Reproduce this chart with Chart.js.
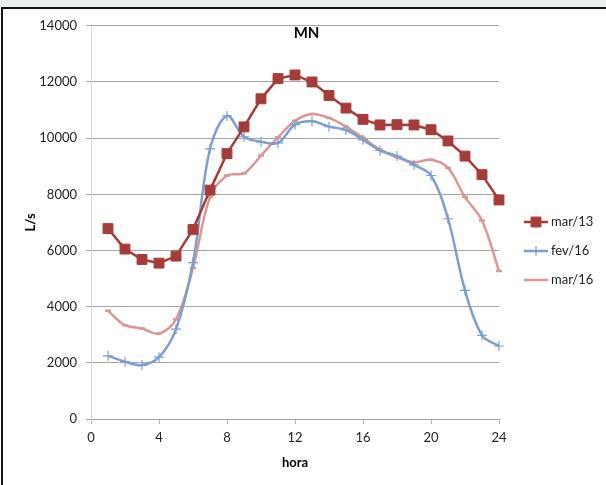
<!DOCTYPE html>
<html>
<head>
<meta charset="utf-8">
<script src="https://cdn.jsdelivr.net/npm/chart.js@4.4.1/dist/chart.umd.min.js"></script>
<style>
  html, body { margin: 0; padding: 0; background: #fff; }
  #strip { position: absolute; left: 0; top: 0; width: 606px; height: 7px; background: #e8f1ee; }
  #frame { position: absolute; left: 1px; top: 7px; width: 603px; height: 476px;
           border-top: 2px solid #151515; border-left: 2px solid #151515; }
  #wrap { width: 603px; height: 476px; }
</style>
</head>
<body>
<div id="strip"></div>
<div id="frame"><div id="wrap"><canvas id="myChart"></canvas></div></div>
<script>
// data
const hours = [1, 2, 3, 4, 5, 6, 7, 8, 9, 10, 11, 12, 13, 14, 15, 16, 17, 18, 19, 20, 21, 22, 23, 24];
const mar13 = [6780, 6050, 5680, 5550, 5800, 6750, 8150, 9450, 10400, 11400, 12120, 12250,
               12000, 11520, 11070, 10670, 10470, 10480, 10470, 10300, 9900, 9360, 8700, 7800];
const fev16 = [2250, 2040, 1920, 2200, 3200, 5570, 9620, 10790, 10050, 9870, 9830, 10480,
               10600, 10410, 10290, 9940, 9560, 9360, 9050, 8670, 7130, 4580, 2980, 2600];
const mar16 = [3850, 3340, 3220, 3040, 3550, 5380, 7900, 8670, 8750, 9380, 10030, 10620,
               10860, 10720, 10410, 10010, 9590, 9320, 9140, 9230, 8940, 7900, 7070, 5270];
const seriesNames = ['mar/13', 'fev/16', 'mar/16'];

const FONT = 'Lato, "Open Sans", sans-serif';

function pts(values) {
  return hours.map((h, i) => ({ x: h, y: values[i] }));
}

// chart title sits inside the plot, like the original
const titlePlugin = {
  id: 'innerTitle',
  afterDraw(chart) {
    const ctx = chart.ctx;
    ctx.save();
    ctx.font = 'bold 15px ' + FONT;
    ctx.fillStyle = '#000';
    ctx.textAlign = 'center';
    ctx.textBaseline = 'middle';
    ctx.fillText('MN', chart.width / 2 + 2, chart.chartArea.top + 7);
    ctx.restore();
  }
};

// legend with line + marker
const sideLegend = {
  id: 'sideLegend',
  afterDraw(chart) {
    const ctx = chart.ctx;
    const x0 = chart.chartArea.right + 25;
    const yc = chart.height / 2 + 4;
    ctx.save();
    chart.data.datasets.forEach((ds, i) => {
      const y = yc + (i - 1) * 29;
      ctx.strokeStyle = ds.borderColor;
      ctx.lineWidth = ds.borderWidth;
      ctx.beginPath();
      ctx.moveTo(x0, y);
      ctx.lineTo(x0 + 24, y);
      ctx.stroke();
      if (ds.legendMarker) {
        ctx.fillStyle = ds.pointBackgroundColor;
        ctx.strokeStyle = ds.pointBorderColor;
        ctx.lineWidth = ds.pointBorderWidth;
        Chart.helpers.drawPoint(ctx, {
          pointStyle: ds.pointStyle,
          radius: ds.pointRadius,
          borderWidth: ds.pointBorderWidth
        }, x0 + 12, y);
      }
      ctx.font = '13px ' + FONT;
      ctx.fillStyle = '#222';
      ctx.textAlign = 'left';
      ctx.textBaseline = 'middle';
      ctx.fillText(seriesNames[i], x0 + 27, y);
    });
    ctx.restore();
  }
};

const data = {
  datasets: [
    {
      label: seriesNames[0],
      data: pts(mar13),
      borderColor: '#a63c39',
      backgroundColor: '#a63c39',
      borderWidth: 2.5,
      tension: 0,
      clip: 10,
      pointStyle: 'rect',
      pointRadius: 7,
      pointBackgroundColor: '#a63c39',
      pointBorderColor: '#a63c39',
      pointBorderWidth: 1,
      legendMarker: true
    },
    {
      label: seriesNames[1],
      data: pts(fev16),
      borderColor: '#7d9fd0',
      backgroundColor: '#7d9fd0',
      borderWidth: 2.5,
      tension: 0.35,
      clip: 10,
      pointStyle: 'cross',
      pointRadius: 5,
      pointBackgroundColor: '#7d9fd0',
      pointBorderColor: '#7d9fd0',
      pointBorderWidth: 1.2,
      legendMarker: true
    },
    {
      label: seriesNames[2],
      data: pts(mar16),
      borderColor: '#d99795',
      backgroundColor: '#d99795',
      borderWidth: 2.5,
      tension: 0.35,
      clip: 10,
      pointStyle: 'line',
      pointRadius: 3,
      pointBackgroundColor: '#d99795',
      pointBorderColor: '#d99795',
      pointBorderWidth: 2.5,
      legendMarker: false
    }
  ]
};

const config = {
  type: 'line',
  data: data,
  options: {
    responsive: true,
    maintainAspectRatio: false,
    animation: false,
    layout: { padding: { top: 16, right: 107, bottom: 0, left: 0 } },
    plugins: {
      legend: { display: false },
      tooltip: { enabled: false },
      title: { display: false }
    },
    scales: {
      x: {
        type: 'linear',
        min: 0,
        max: 24,
        afterFit(scale) { scale.height = 66; },
        ticks: { stepSize: 4, padding: 6, color: '#222', font: { family: FONT, size: 13 } },
        grid: { drawOnChartArea: false, tickLength: 5, color: '#b3b3b3' },
        border: { color: '#a6a6a6', width: 1 },
        title: { display: true, text: 'hora', color: '#000',
                 font: { family: FONT, size: 13, weight: 'bold' }, padding: { top: 0, bottom: 14 } }
      },
      y: {
        min: 0,
        max: 14000,
        afterFit(scale) { scale.width = 88; },
        ticks: { stepSize: 2000, padding: 9, color: '#222', font: { family: FONT, size: 13 },
                 callback: (v) => String(v) },
        grid: { color: '#a6a6a6', tickLength: 5 },
        border: { color: '#d4d4d4', width: 1 },
        title: { display: true, text: 'L/s', color: '#000',
                 font: { family: FONT, size: 13, weight: 'bold' }, padding: { top: 20, bottom: 0 } }
      }
    }
  },
  plugins: [titlePlugin, sideLegend]
};

const myChart = new Chart('myChart', config);
</script>
</body>
</html>
